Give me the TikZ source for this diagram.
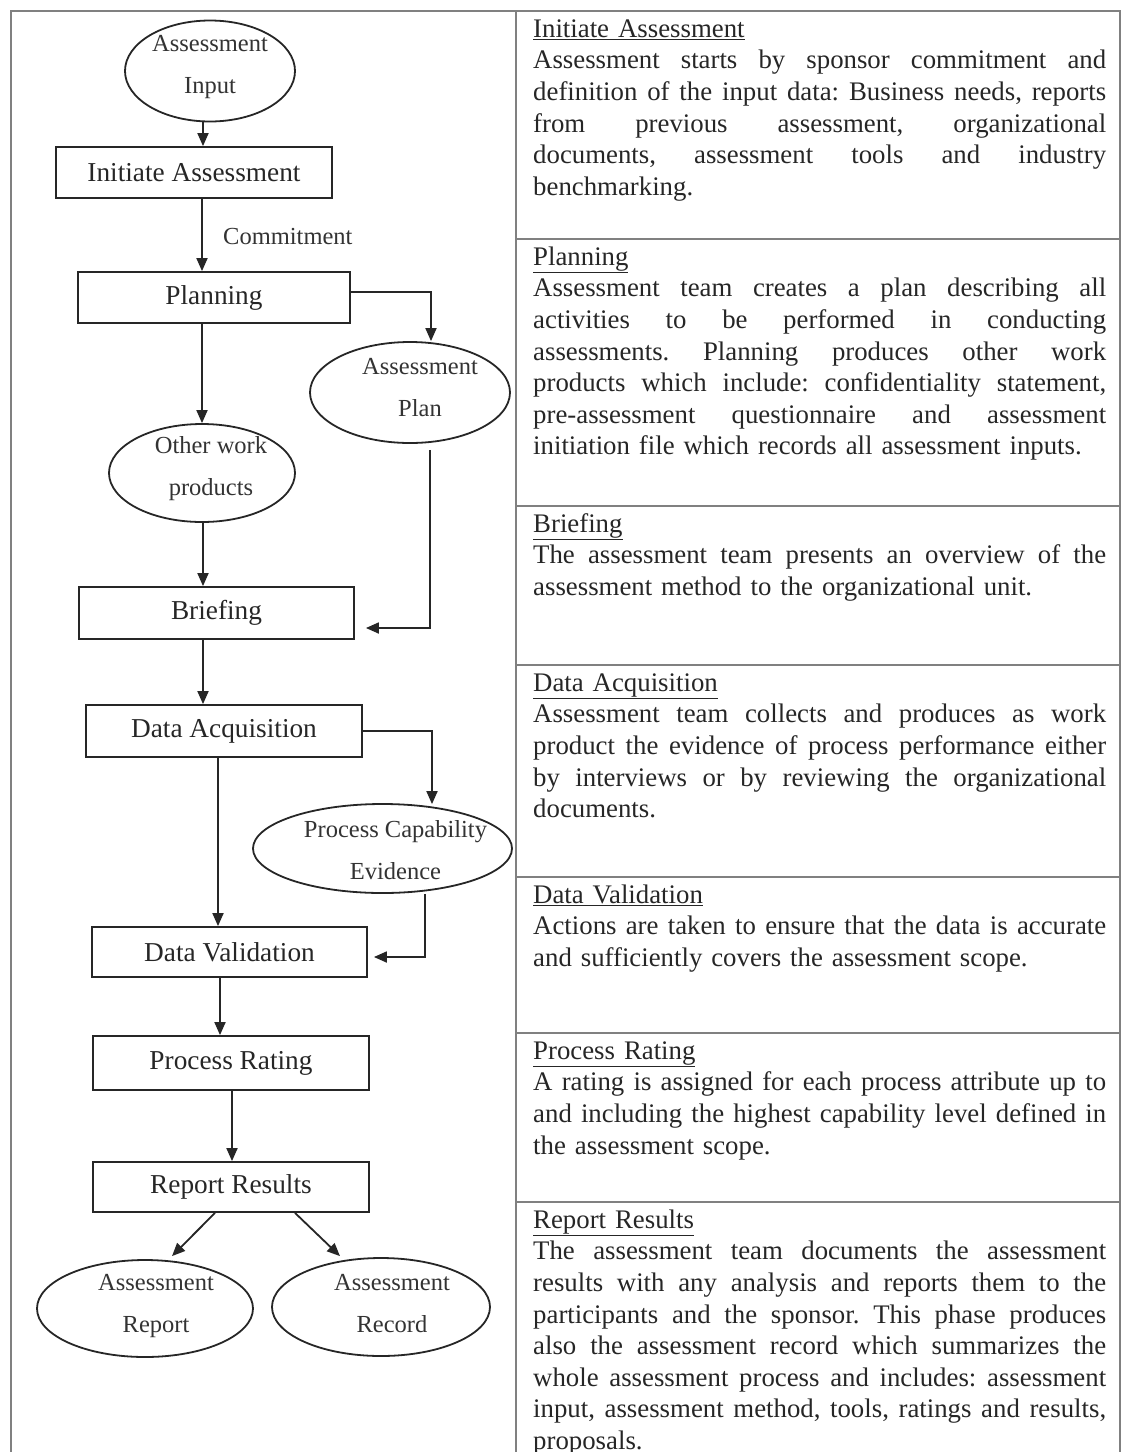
\documentclass[tikz,border=0pt]{standalone}
\usepackage{fontspec}
\setmainfont{Liberation Serif}
\usetikzlibrary{arrows.meta,shapes.geometric,calc}
% one justified line of the description column (stretchable word spaces)
\newcommand\jline[1]{{\frenchspacing\spaceskip=0pt\xspaceskip=0pt\makebox[573pt][s]{#1}}}
\begin{document}
\begin{tikzpicture}[x=1pt,y=-1pt,
  stepbox/.style={draw=black!85, line width=1.8pt, rectangle, inner sep=0pt,
    font=\fontsize{27.3}{31.6}\selectfont, text=black!85},
  prod/.style={draw=black!85, line width=1.8pt, ellipse, inner sep=0pt},
  prodtext/.style={align=center, inner sep=0pt,
    font=\fontsize{24.5}{42}\selectfont, text=black!80},
  arr/.style={draw=black!85, line width=1.8pt, -{Triangle[length=13pt,width=11pt]}},
  grid/.style={draw=black!50, line width=2pt},
  desc/.style={anchor=north west, inner sep=0pt, text width=573pt, align=left,
    font=\fontsize{26.8}{31.6}\selectfont\frenchspacing, text=black!85},
]
\useasboundingbox (0,0) rectangle (1122,1452);

% table frame
\draw[grid] (11,1452) -- (11,11) -- (1120,11) -- (1120,1452);
\draw[grid] (516,11) -- (516,1452);
\foreach \yy in {239,506,665,877,1033,1202}
  \draw[grid] (516,\yy) -- (1120,\yy);

% process steps
\node[stepbox, minimum width=276pt, minimum height=51pt] (init)  at (194,172.5)  {Initiate Assessment};
\node[stepbox, minimum width=272pt, minimum height=51pt] (plan)  at (214,297.5)  {Planning};
\node[stepbox, minimum width=275pt, minimum height=52pt] (brief) at (216.5,613)  {Briefing};
\node[stepbox, minimum width=276pt, minimum height=52pt] (acq)   at (224,731)    {Data Acquisition};
\node[stepbox, minimum width=275pt, minimum height=50pt] (val)   at (229.5,952)  {Data Validation};
\node[stepbox, minimum width=276pt, minimum height=54pt] (rate)  at (231,1063)   {Process Rating};
\node[stepbox, minimum width=276pt, minimum height=50pt] (rep)   at (231,1187)   {Report Results};

% work products
\node[prod, minimum width=170pt, minimum height=101pt] (inp)   at (210,71)      {};
\node[prod, minimum width=200pt, minimum height=101pt] (aplan) at (410,392.5)   {};
\node[prod, minimum width=186pt, minimum height=98pt]  (other) at (202,473)     {};
\node[prod, minimum width=259pt, minimum height=89pt]  (pce)   at (382.5,848.5) {};
\node[prod, minimum width=216pt, minimum height=97pt]  (arep)  at (145,1308.5)  {};
\node[prod, minimum width=218pt, minimum height=98pt]  (arec)  at (381,1307)    {};

\node[prodtext] (inp-t)   at ($(inp)+(0,-3.5)$)  {Assessment\\Input};
\node[prodtext] (aplan-t) at ($(aplan)+(10,-5)$) {Assessment\\Plan};
\node[prodtext] (other-t) at ($(other)+(9,-4)$)  {Other work\\products};
\node[prodtext] (pce-t)   at ($(pce)+(13,1.5)$)  {Process Capability\\Evidence};
\node[prodtext] (arep-t)  at ($(arep)+(11,-2.5)$) {Assessment\\Report};
\node[prodtext] (arec-t)  at ($(arec)+(11,-3)$)  {Assessment\\Record};

\node[prodtext, anchor=west] (commit) at (223,237) {Commitment};

% flow
\draw[arr] ($(inp.south)+(-7,0)$) -- ($(init.north)+(9,0)$);
\draw[arr] ($(init.south)+(8,0)$) -- ($(plan.north)+(-12,0)$);
\draw[arr] ($(plan.east)+(0,-5.5)$) -| ($(aplan.north)+(21,0)$);
\draw[arr] ($(plan.south)+(-12,0)$) -- (other.north);
\draw[arr] ($(other.south)+(1,0)$) -- ($(brief.north)+(-13.5,0)$);
\draw[arr] ($(aplan.south)+(20,6)$) |- ($(brief.east)+(11,15)$);
\draw[arr] ($(brief.south)+(-13.5,0)$) -- ($(acq.north)+(-21,0)$);
\draw[arr] (acq.east) -| ($(pce.north)+(49.5,1)$);
\draw[arr] ($(acq.south)+(-6,0)$) -- ($(val.north)+(-11.5,0)$);
\draw[arr] ($(pce.south)+(42.5,0)$) |- ($(val.east)+(6,5)$);
\draw[arr] ($(val.south)+(-9.5,0)$) -- ($(rate.north)+(-11,0)$);
\draw[arr] ($(rate.south)+(1,0)$) -- ($(rep.north)+(1,0)$);
\draw[arr] ($(rep.south)+(-16,0)$) -- ($(arep.north)+(27,-3)$);
\draw[arr] ($(rep.south)+(64,0)$) -- ($(arec.north)+(-41,-1)$);

% descriptions
\node[desc] (d-init) at (533,14.9) {\strut\underline{Initiate Assessment}\\
\jline{Assessment starts by sponsor commitment and}\\
\jline{definition of the input data: Business needs, reports}\\
\jline{from previous assessment, organizational}\\
\jline{documents, assessment tools and industry}\\
benchmarking.};

\node[desc] (d-plan) at (533,242.9) {\strut\underline{Planning}\\
\jline{Assessment team creates a plan describing all}\\
\jline{activities to be performed in conducting}\\
\jline{assessments. Planning produces other work}\\
\jline{products which include: confidentiality statement,}\\
\jline{pre-assessment questionnaire and assessment}\\
initiation file which records all assessment inputs.};

\node[desc] (d-brief) at (533,509.9) {\strut\underline{Briefing}\\
\jline{The assessment team presents an overview of the}\\
assessment method to the organizational unit.};

\node[desc] (d-acq) at (533,668.9) {\strut\underline{Data Acquisition}\\
\jline{Assessment team collects and produces as work}\\
\jline{product the evidence of process performance either}\\
\jline{by interviews or by reviewing the organizational}\\
documents.};

\node[desc] (d-val) at (533,880.9) {\strut\underline{Data Validation}\\
\jline{Actions are taken to ensure that the data is accurate}\\
and sufficiently covers the assessment scope.};

\node[desc] (d-rate) at (533,1036.9) {\strut\underline{Process Rating}\\
\jline{A rating is assigned for each process attribute up to}\\
\jline{and including the highest capability level defined in}\\
the assessment scope.};

\node[desc] (d-rep) at (533,1205.9) {\strut\underline{Report Results}\\
\jline{The assessment team documents the assessment}\\
\jline{results with any analysis and reports them to the}\\
\jline{participants and the sponsor. This phase produces}\\
\jline{also the assessment record which summarizes the}\\
\jline{whole assessment process and includes: assessment}\\
\jline{input, assessment method, tools, ratings and results,}\\
proposals.};
\end{tikzpicture}
\end{document}
